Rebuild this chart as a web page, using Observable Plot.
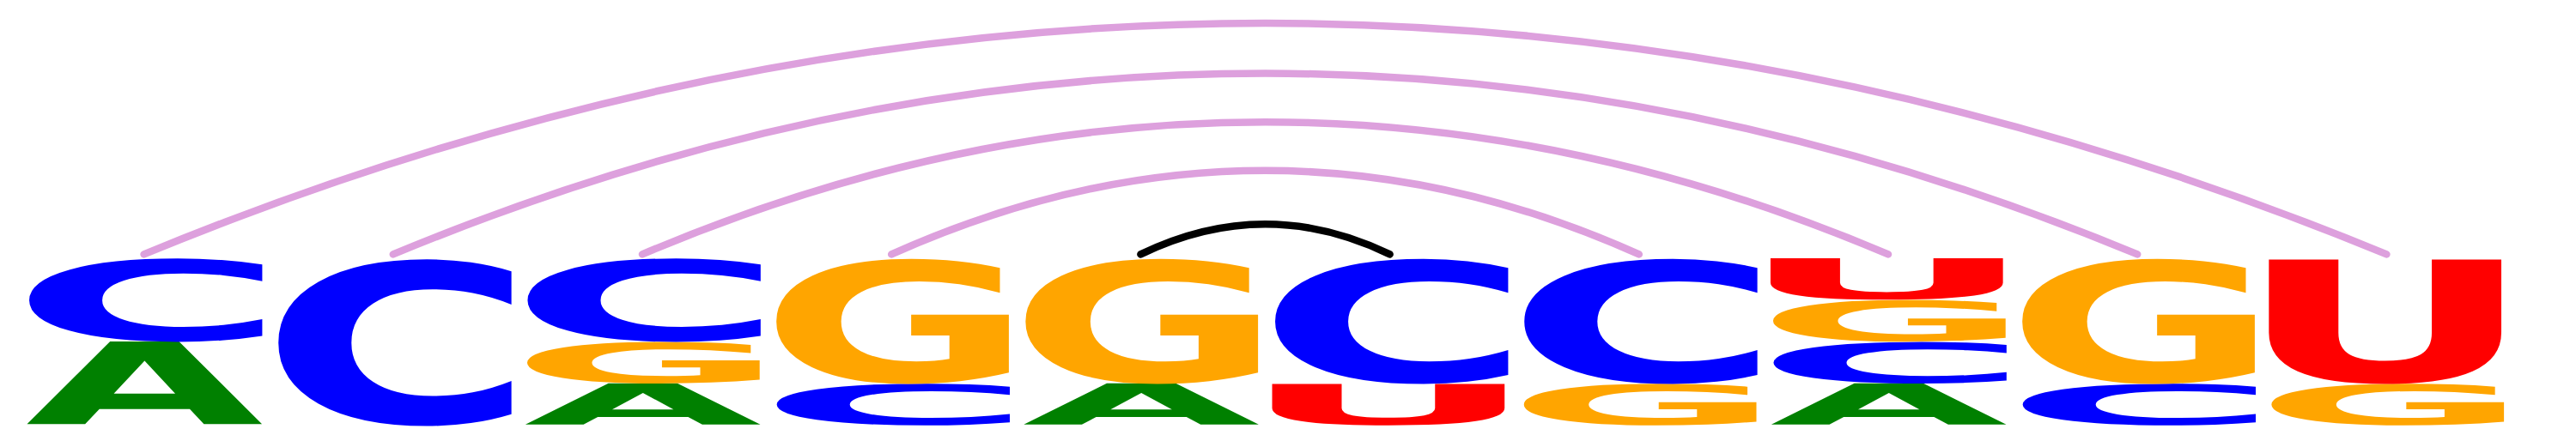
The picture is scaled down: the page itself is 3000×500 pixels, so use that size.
<!DOCTYPE html>
<html>
<head>
<meta charset="utf-8">
<script src="https://cdn.jsdelivr.net/npm/d3@7"></script>
<script src="https://cdn.jsdelivr.net/npm/@observablehq/plot@0.6"></script>
<style>
  body { margin: 0; background: #fff; }
</style>
</head>
<body>
<div id="chart"></div>
<script>
// columns of the alignment
const positions = [1, 2, 3, 4, 5, 6, 7, 8, 9, 10]
const nucleotides = ['A', 'C', 'G', 'U']
const nucleotideColors = ['#008000', '#0000ff', '#ffa500', '#ff0000']

// letter frequencies per column
const freqA = [0.5, 0, 0.25, 0, 0.25, 0, 0, 0.25, 0, 0]
const freqC = [0.5, 1, 0.5, 0.25, 0, 0.75, 0.75, 0.25, 0.25, 0]
const freqG = [0, 0, 0.25, 0.75, 0.75, 0, 0.25, 0.25, 0.75, 0.25]
const freqU = [0, 0, 0, 0, 0, 0.25, 0, 0.25, 0, 0.75]

// base pairs (arcs)
const pairLeft = [1, 2, 3, 4, 5]
const pairRight = [10, 9, 8, 7, 6]
const pairPeak = [2.40, 2.10, 1.81, 1.52, 1.20]
const pairColor = ['#dda0dd', '#dda0dd', '#dda0dd', '#dda0dd', '#000000']
const pairBase = 1.02

const freqs = {A: freqA, C: freqC, G: freqG, U: freqU}

// stack: smallest at bottom, ties alphabetical
const letterRows = []
positions.forEach((pos, i) => {
  const col = nucleotides
    .map(n => ({letter: n, p: freqs[n][i]}))
    .filter(d => d.p > 0)
    .sort((a, b) => a.p - b.p || d3.ascending(a.letter, b.letter))
  let y = 0
  col.forEach(d => {
    letterRows.push({pos, letter: d.letter, y1: y, y2: y + d.p, ym: y + d.p / 2})
    y += d.p
  })
})

const arcRows = []
pairLeft.forEach((l, k) => {
  const r = pairRight[k]
  arcRows.push({pair: k, x: l, y: pairBase})
  arcRows.push({pair: k, x: (l + r) / 2, y: pairPeak[k]})
  arcRows.push({pair: k, x: r, y: pairBase})
})

// parabola through first, middle and last point
function parabola(context) {
  let pts
  return {
    areaStart() {}, areaEnd() {},
    lineStart() { pts = [] },
    point(x, y) { pts.push([+x, +y]) },
    lineEnd() {
      const [a, m, b] = pts
      context.moveTo(a[0], a[1])
      context.quadraticCurveTo(2 * m[0] - (a[0] + b[0]) / 2, 2 * m[1] - (a[1] + b[1]) / 2, b[0], b[1])
    },
  }
}

const halfWidth = 0.475

let chart = Plot.plot({
  width: 3000,
  height: 500,
  marginLeft: 22,
  marginRight: 76,
  marginTop: 7,
  marginBottom: 5,
  x: {domain: [0.5, 10.5], axis: null},
  y: {domain: [0, 2.5], axis: null},
  color: {domain: nucleotides, range: nucleotideColors},
  marks: [
    ...pairLeft.map((l, k) => Plot.line(arcRows.filter(d => d.pair === k), {
      x: 'x', y: 'y', stroke: pairColor[k], strokeWidth: 8.5,
      strokeLinecap: 'round', curve: parabola,
    })),
    Plot.text(letterRows, {
      x: 'pos', y: 'ym', text: 'letter', fill: 'letter',
      fontSize: 100, fontFamily: 'DejaVu Sans', fontWeight: 'bold',
    }),
  ],
})

d3.select('#chart').append(() => chart)

// stretch each glyph to fill its cell
const xs = chart.scale('x')
const ys = chart.scale('y')
const ctx = document.createElement('canvas').getContext('2d')
ctx.font = "bold 100px 'DejaVu Sans'"
chart.querySelectorAll('g[aria-label="text"] text').forEach((node, i) => {
  const d = letterRows[i]
  const m = ctx.measureText(d.letter)
  const L = m.actualBoundingBoxLeft, R = m.actualBoundingBoxRight
  const A = m.actualBoundingBoxAscent, D = m.actualBoundingBoxDescent
  const X0 = xs.apply(d.pos - halfWidth), X1 = xs.apply(d.pos + halfWidth)
  const Yt = ys.apply(d.y2), Yb = ys.apply(d.y1)
  const sx = (X1 - X0) / (L + R), sy = (Yb - Yt) / (A + D)
  node.removeAttribute('x')
  node.removeAttribute('y')
  node.removeAttribute('dy')
  node.setAttribute('text-anchor', 'start')
  node.setAttribute('transform', `translate(${X0 + L * sx},${Yt + A * sy}) scale(${sx},${sy})`)
})
</script>
</body>
</html>
